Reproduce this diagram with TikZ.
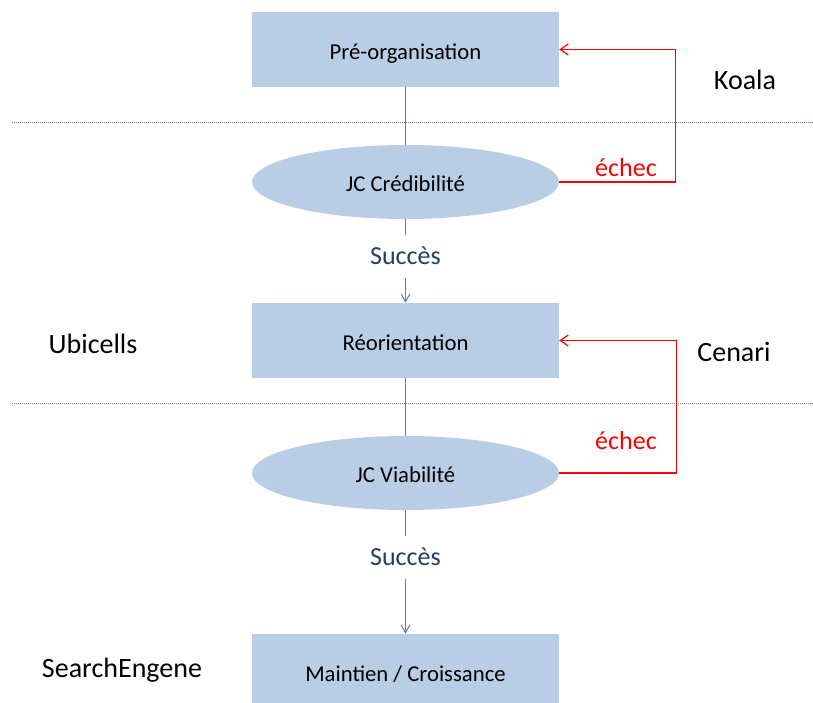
\documentclass[tikz,border=0pt]{standalone}
\usepackage{fontspec}
\setmainfont{Carlito}
\usetikzlibrary{shapes.geometric,arrows.meta}
\definecolor{boxblue}{RGB}{185,205,229}
\definecolor{lineblue}{RGB}{79,129,189}
\definecolor{textblue}{RGB}{36,63,96}
\definecolor{sepgray}{RGB}{120,130,150}
\tikzset{
  etape/.style={rectangle,fill=boxblue,minimum width=307pt,minimum height=75pt,
    font=\fontsize{22.7}{26}\selectfont,text height=19pt,text depth=0pt},
  jalon/.style={ellipse,fill=boxblue,minimum width=307pt,minimum height=74pt,inner sep=0pt,
    font=\fontsize{22.7}{26}\selectfont,text height=19pt,text depth=0pt},
  lien/.style={lineblue,line width=1pt},
  succes/.style={fill=white,text=textblue,font=\fontsize{26}{30}\selectfont,
    text height=17pt,text depth=0pt,inner ysep=13pt},
  echec/.style={red,line width=1.2pt,-{Straight Barb[length=8pt,width=11pt]}},
  projet/.style={anchor=base,font=\fontsize{28}{32}\selectfont}
}
\begin{document}
\begin{tikzpicture}[x=1pt,y=-1pt]
        \useasboundingbox (0,0) rectangle (813,702);
        % Séparations
        \draw[sepgray,line width=0.6pt,dash pattern=on 1pt off 1pt] (12,122) -- (813,122);
        \draw[sepgray,line width=0.6pt,dash pattern=on 1pt off 1pt] (12,403) -- (813,403);

        % Etapes et jalons
        \node[etape] (preorg) at (405.5,49.5) {Pré-organisation};
        \node[jalon] (cred) at (405.5,182) {JC Crédibilité};
        \node[etape] (reorg) at (405.5,340.5) {Réorientation};
        \node[jalon] (viab) at (405.5,473) {JC Viabilité};
        \node[etape] (maint) at (405.5,671.5) {Maintien / Croissance};

        % Liens
        \draw[lien] (preorg) -- (cred);
        \draw[lien,-{Straight Barb[length=8pt,width=9pt]}] (cred) -- node[succes,pos=0.446] (s1) {Succès} (reorg);
        \draw[lien] (reorg) -- (viab);
        \draw[lien,-{Straight Barb[length=8pt,width=9pt]}] (viab) -- node[succes,pos=0.379] (s2) {Succès} (maint);

        % Echecs
        \draw[echec] (cred.east) -- ++(116,0) |- (preorg.east);
        \draw[echec] (viab.east) -- ++(117,0) |- (reorg.east);
        \node[red,anchor=base,font=\fontsize{26}{30}\selectfont] (e1) at (626,176) {échec};
        \node[red,anchor=base,font=\fontsize{26}{30}\selectfont] (e2) at (626,449) {échec};

        % Projets
        \node[projet] (koala) at (745,89) {Koala};
        \node[projet] (ubi) at (93,353) {Ubicells};
        \node[projet] (cenari) at (734,361) {Cenari};
        \node[projet] (search) at (122,677) {SearchEngene};
\end{tikzpicture}
\end{document}
